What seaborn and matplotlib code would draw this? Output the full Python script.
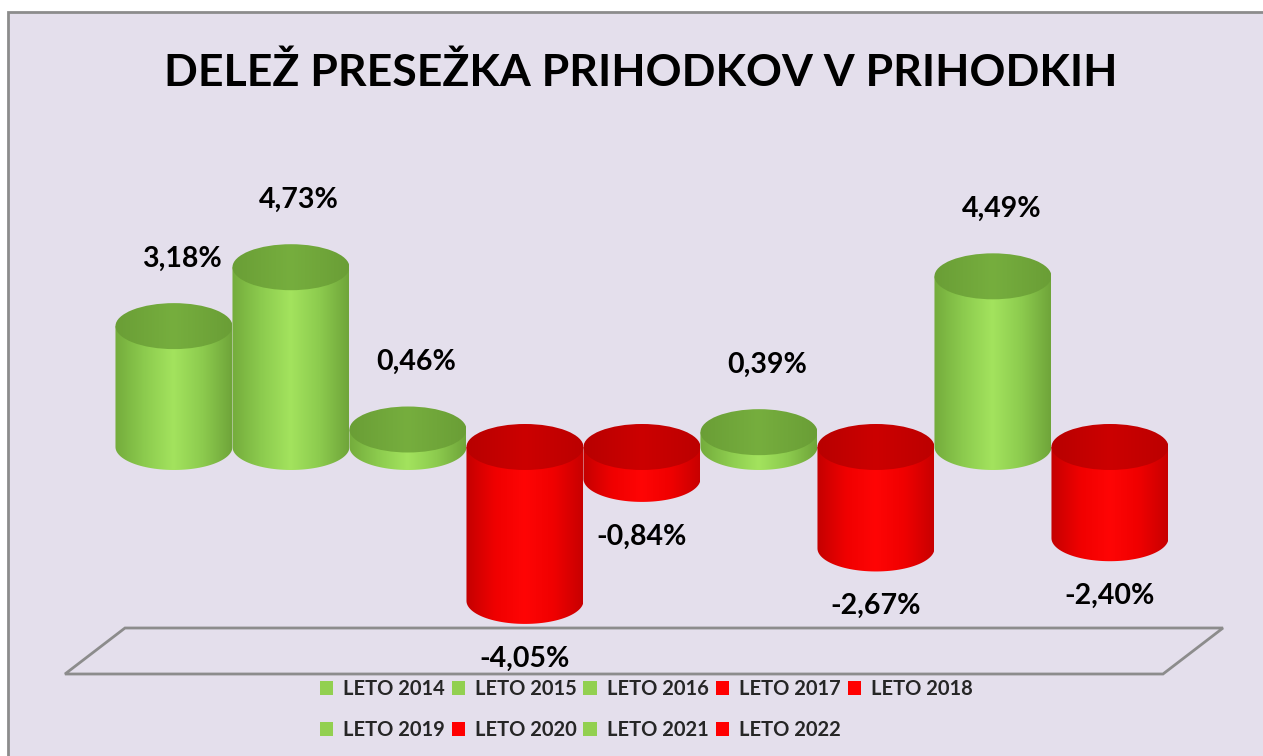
import numpy as np
import pandas as pd
import seaborn as sns
import matplotlib as mpl
mpl.use('Agg')
import matplotlib.pyplot as plt
from matplotlib.patches import Ellipse, Rectangle, Polygon, Patch
from matplotlib.colors import LinearSegmentedColormap


years = ['LETO 2014', 'LETO 2015', 'LETO 2016', 'LETO 2017', 'LETO 2018',
         'LETO 2019', 'LETO 2020', 'LETO 2021', 'LETO 2022']
values = [3.18, 4.73, 0.46, -4.05, -0.84, 0.39, -2.67, 4.49, -2.40]
value_labels = ['3,18%', '4,73%', '0,46%', '-4,05%', '-0,84%',
                '0,39%', '-2,67%', '4,49%', '-2,40%']
title = 'DELEŽ PRESEŽKA PRIHODKOV V PRIHODKIH'

GREEN = '#92D050'
RED = '#FF0000'
BG = '#E4DFEC'
colors = [GREEN if v >= 0 else RED for v in values]

# cylinder shading: side (edge -> highlight -> edge), top cap darker
side_cmaps = {
    GREEN: LinearSegmentedColormap.from_list('gs', ['#74AC3C', '#8CCB4E', '#A3E35E', '#8CCB4E', '#6FA53A']),
    RED: LinearSegmentedColormap.from_list('rs', ['#C40000', '#F00000', '#FF0505', '#F00000', '#C80000']),
}
top_cmaps = {
    GREEN: LinearSegmentedColormap.from_list('gt', ['#6A9E36', '#76AE3E', '#6A9E36']),
    RED: LinearSegmentedColormap.from_list('rt', ['#B80000', '#CC0000', '#BC0000']),
}

df = pd.DataFrame({'leto': years, 'delez': values})

sns.set_theme(style='white')
plt.rcParams['font.family'] = ['Lato', 'DejaVu Sans']

fig = plt.figure(figsize=(12.63, 7.56), dpi=100)
fig.patch.set_facecolor('white')
fig.add_artist(Rectangle((8 / 1263, -0.02), 1.0, 1 - 12 / 756 + 0.02,
                         transform=fig.transFigure, facecolor=BG,
                         edgecolor='#8C8C8C', lw=2, zorder=-1))

ax = fig.add_axes([0, 0, 1, 1])
ax.set_facecolor('none')

sns.barplot(data=df, x='leto', y='delez', hue='leto', palette=colors,
            width=1.0, saturation=1, errorbar=None, legend=False, ax=ax)

ax.set_xlim(-1.487, 9.308)
ax.set_ylim(-8.13, 11.76)
ax.axis('off')

# floor of the 3D chart
floor = Polygon([(125 / 1263, 1 - 628 / 756), (1223 / 1263, 1 - 628 / 756),
                 (1163 / 1263, 1 - 674 / 756), (65 / 1263, 1 - 674 / 756)],
                closed=True, transform=ax.transAxes, facecolor=BG,
                edgecolor='#8C8C8C', lw=2, zorder=1)
ax.add_patch(floor)

ell_h = 1.21
grad = np.linspace(0, 1, 256).reshape(1, -1)

for i, (bar, col) in enumerate(zip(ax.patches[:len(values)], colors)):
    x0, w = bar.get_x(), bar.get_width()
    y0, h = bar.get_y(), bar.get_height()
    bottom, top = min(y0, y0 + h), max(y0, y0 + h)
    xc = x0 + w / 2
    bar.set_visible(False)
    z = 3 + i * 0.1

    # side of the cylinder with rounded bottom
    t = np.linspace(0, -np.pi, 60)
    arc = np.column_stack([xc + w / 2 * np.cos(t), bottom + ell_h / 2 * np.sin(t)])
    pts = np.vstack([[x0, top], [x0 + w, top], [x0 + w, bottom], arc, [x0, bottom]])
    side = Polygon(pts, closed=True, facecolor='none', edgecolor='none', zorder=z)
    ax.add_patch(side)
    im = ax.imshow(grad, cmap=side_cmaps[col], aspect='auto', zorder=z,
                   extent=[x0, x0 + w, bottom - ell_h, top], interpolation='bilinear')
    im.set_clip_path(side)

    # top cap
    cap = Ellipse((xc, top), w, ell_h, facecolor='none', edgecolor='none', zorder=z + 0.01)
    ax.add_patch(cap)
    im2 = ax.imshow(grad, cmap=top_cmaps[col], aspect='auto', zorder=z + 0.01,
                    extent=[x0, x0 + w, top - ell_h, top + ell_h], interpolation='bilinear')
    im2.set_clip_path(cap)

    # data label
    if values[i] >= 0:
        ax.annotate(value_labels[i], (xc, top + ell_h / 2), xytext=(6, 32),
                    textcoords='offset points', ha='center', va='center',
                    fontsize=20.5, fontweight='bold', color='black', zorder=10)
    else:
        ax.annotate(value_labels[i], (xc, bottom - ell_h / 2), xytext=(0, -25),
                    textcoords='offset points', ha='center', va='center',
                    fontsize=20.5, fontweight='bold', color='black', zorder=10)

ax.set_ylim(-8.13, 11.76)
ax.set_xlim(-1.487, 9.308)

fig.text(0.507, 1 - 73 / 756, title, ha='center', va='center',
         fontsize=32, fontweight='bold', color='black')

# legend fills column-wise; reorder so it reads row by row
ncol = 5
order = [0, 5, 1, 6, 2, 7, 3, 8, 4]
handles = [Patch(facecolor=colors[k], edgecolor='none') for k in order]
fig.legend(handles, [years[k] for k in order], ncol=ncol, loc='upper center',
           bbox_to_anchor=(646 / 1263, 1 - 661 / 756), frameon=False,
           handlelength=0.65, handleheight=0.65, handletextpad=0.5,
           columnspacing=0.35, labelspacing=1.05,
           prop={'weight': 'bold', 'size': 14.5})

fig.savefig('out.png', dpi=100, facecolor=fig.get_facecolor())
